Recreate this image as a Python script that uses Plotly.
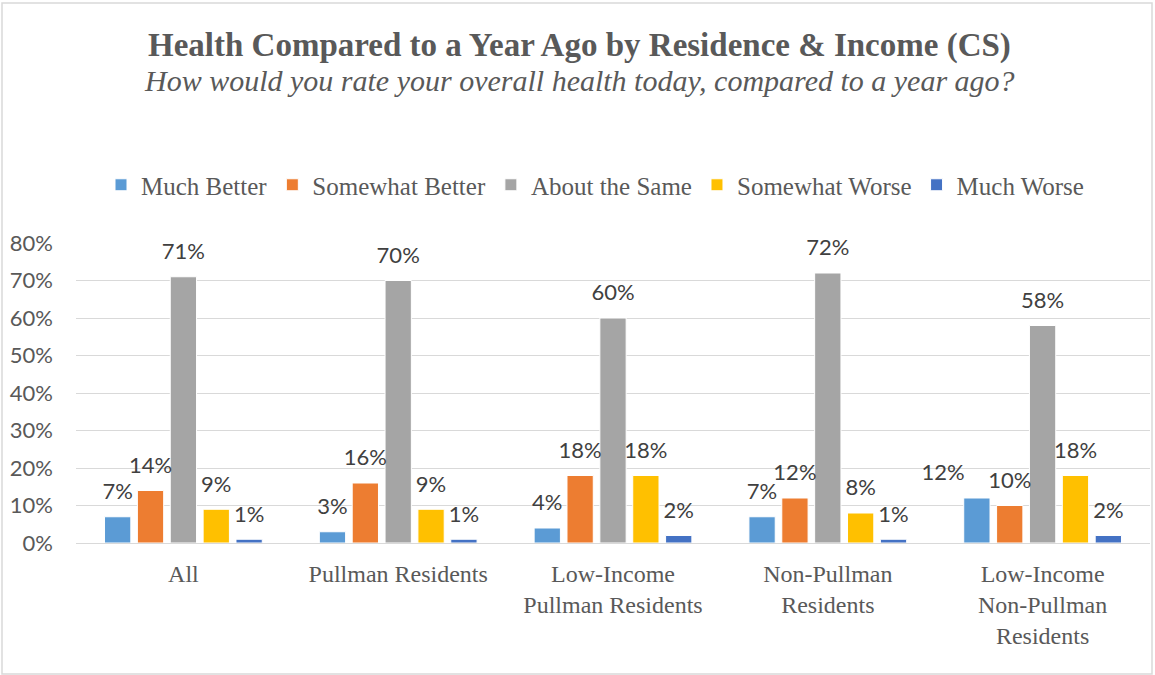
import plotly.graph_objects as go

categories = ["All", "Pullman Residents", "Low-Income<br>Pullman Residents",
              "Non-Pullman<br>Residents", "Low-Income<br>Non-Pullman<br>Residents"]
series_names = ["Much Better", "Somewhat Better", "About the Same", "Somewhat Worse", "Much Worse"]
much_better = [7, 3, 4, 7, 12]
somewhat_better = [14, 16, 18, 12, 10]
about_same = [71, 70, 60, 72, 58]
somewhat_worse = [9, 9, 18, 8, 18]
much_worse = [1, 1, 2, 1, 2]
colors = ["#5B9BD5", "#ED7D31", "#A5A5A5", "#FFC000", "#4472C4"]
y_ticks = [0, 10, 20, 30, 40, 50, 60, 70, 80]
y_tick_labels = [f"{v}%" for v in y_ticks]

series_values = [much_better, somewhat_better, about_same, somewhat_worse, much_worse]

SERIF = "Liberation Serif"
SANS = "Lato"
GRAY = "#595959"

fig = go.Figure()
for i, (name, vals, col) in enumerate(zip(series_names, series_values, colors)):
    fig.add_trace(go.Bar(
        x=categories, y=vals, name=name,
        marker=dict(color=col, line=dict(color="#FFFFFF", width=1)),
        offsetgroup=f"b{i}", alignmentgroup="bars",
    ))
for i, (name, vals) in enumerate(zip(series_names, series_values)):
    positions = ["top center"] * len(vals)
    if i == 0:
        positions[-1] = "top left"
    fig.add_trace(go.Scatter(
        x=categories, y=vals, mode="markers+text",
        text=[f"{v}%" for v in vals], textposition=positions,
        textfont=dict(family=SANS, size=22, color="#404040"),
        marker=dict(size=18, opacity=0),
        offsetgroup=f"s{i}", alignmentgroup="labels",
        showlegend=False, hoverinfo="skip", cliponaxis=False,
    ))

gap = 0.235
fig.update_layout(
    width=1155, height=675,
    paper_bgcolor="white", plot_bgcolor="white",
    margin=dict(l=76, r=5, t=243, b=132, autoexpand=False),
    barmode="group", bargap=gap, bargroupgap=0.2,
    scattermode="group", scattergap=gap,
    showlegend=True,
    legend=dict(orientation="h", x=(595 - 76) / 1074, xanchor="center", y=(543 - 185) / 300,
                yanchor="middle", font=dict(family=SERIF, size=25, color=GRAY),
                traceorder="normal"),
    xaxis=dict(showgrid=False, showline=False, zeroline=False, automargin=False,
               tickfont=dict(family=SERIF, size=24, color=GRAY),
               ticks="", ticklabelstandoff=14),
    yaxis=dict(range=[0, 80], tickvals=y_ticks, ticktext=y_tick_labels, automargin=False,
               showgrid=True, gridcolor="#D9D9D9", gridwidth=1,
               zeroline=True, zerolinecolor="#D9D9D9", zerolinewidth=1,
               showline=False, ticks="",
               tickfont=dict(family=SANS, size=22, color=GRAY),
               ticklabelstandoff=22),
    annotations=[
        dict(text="<b>Health Compared to a Year Ago by Residence &amp; Income (CS)</b>",
             xref="paper", yref="paper", x=(579 - 76) / 1074, y=(543 - 45) / 300,
             xanchor="center", yanchor="middle", showarrow=False,
             font=dict(family=SERIF, size=33, color=GRAY)),
        dict(text="<i>How would you rate your overall health today, compared to a year ago?</i>",
             xref="paper", yref="paper", x=(579 - 76) / 1074, y=(543 - 80) / 300,
             xanchor="center", yanchor="middle", showarrow=False,
             font=dict(family=SERIF, size=30, color=GRAY)),
    ],
    shapes=[dict(type="rect", xref="paper", yref="paper",
                 x0=(2 - 76) / 1074, x1=(1152 - 76) / 1074,
                 y0=(543 - 674) / 300, y1=(543 - 3) / 300,
                 line=dict(color="#D9D9D9", width=1.5), fillcolor="rgba(0,0,0,0)",
                 layer="below")],
)

fig.write_html("out.html", config={"displayModeBar": False},
               post_script="document.body.style.margin='0px';")
